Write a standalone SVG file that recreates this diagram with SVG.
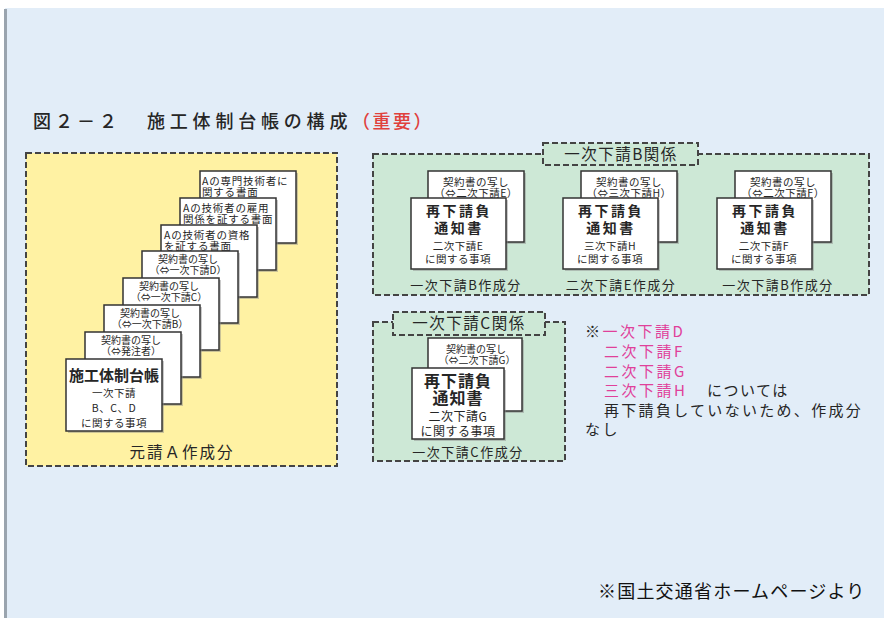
<svg xmlns="http://www.w3.org/2000/svg" width="884" height="618" viewBox="0 0 884 618">
<style>
text{font-family:"Noto Sans CJK JP","Noto Sans",sans-serif;fill:#262626}
.card{fill:#fff;stroke:#333;stroke-width:1.5}
.shadow{fill:#8a8a8a;opacity:.45}
.dash{stroke:#444;stroke-width:2;stroke-dasharray:6 3}
.yel{fill:#fff2a3}
.grn{fill:#cde8d6}
.s{font-size:10.5px;letter-spacing:.8px}
.sc{font-size:10px;text-anchor:middle}
.sb{font-size:10.5px;text-anchor:middle;letter-spacing:.5px}
.big{font-size:14px;font-weight:700;text-anchor:middle;letter-spacing:2.5px}
.cap{font-size:13px;text-anchor:middle;letter-spacing:1.5px}
.lab{font-size:15.5px;text-anchor:middle;letter-spacing:1.5px}
.note{font-size:15px;letter-spacing:2.5px}
.mag{fill:#e0409a}
</style>
<rect x="0" y="0" width="884" height="618" fill="#ffffff"/>
<rect x="5" y="8" width="879" height="610" fill="#e2edf8"/>
<rect x="4" y="9" width="3" height="609" fill="#9aa4ae"/>

<g id="title">
<text x="33" y="128" font-size="18" letter-spacing="4" font-weight="500">図２－２</text>
<text x="147" y="128" font-size="18" letter-spacing="4.8" font-weight="500">施工体制台帳の構成</text>
<text x="352" y="128" font-size="18" letter-spacing="2.5" font-weight="500" style="fill:#e0403c">（重要）</text>
</g>

<g id="groupA">
<rect x="26" y="153" width="311" height="313" class="yel dash"/>
<text x="182" y="458" font-size="15.5" text-anchor="middle" letter-spacing="2">元請Ａ作成分</text>
</g>

<g id="cardA1">
<rect x="202" y="173" width="96" height="72" class="shadow"/>
<rect x="200" y="171" width="96" height="72" class="card"/>
<text x="202" y="185" class="s">Aの専門技術者に</text>
<text x="202" y="196" class="s">関する書面</text>
</g>
<g id="cardA2">
<rect x="182" y="200" width="96" height="72" class="shadow"/>
<rect x="180" y="198" width="96" height="72" class="card"/>
<text x="183" y="212" class="s">Aの技術者の雇用</text>
<text x="183" y="223" class="s">関係を証する書面</text>
</g>
<g id="cardA3">
<rect x="163" y="227" width="96" height="72" class="shadow"/>
<rect x="161" y="225" width="96" height="72" class="card"/>
<text x="164" y="239" class="s">Aの技術者の資格</text>
<text x="164" y="250" class="s">を証する書面</text>
</g>
<g id="cardA4">
<rect x="144" y="253" width="96" height="72" class="shadow"/>
<rect x="142" y="251" width="96" height="72" class="card"/>
<text x="188" y="263" class="sc">契約書の写し</text>
<text x="188" y="274" class="sc">（⇔一次下請D）</text>
</g>
<g id="cardA5">
<rect x="125" y="280" width="96" height="72" class="shadow"/>
<rect x="123" y="278" width="96" height="72" class="card"/>
<text x="169" y="290" class="sc">契約書の写し</text>
<text x="169" y="301" class="sc">（⇔一次下請C）</text>
</g>
<g id="cardA6">
<rect x="106" y="307" width="96" height="72" class="shadow"/>
<rect x="104" y="305" width="96" height="72" class="card"/>
<text x="150" y="317" class="sc">契約書の写し</text>
<text x="150" y="328" class="sc">（⇔一次下請B）</text>
</g>
<g id="cardA7">
<rect x="87" y="334" width="96" height="72" class="shadow"/>
<rect x="85" y="332" width="96" height="72" class="card"/>
<text x="131" y="344" class="sc">契約書の写し</text>
<text x="131" y="355" class="sc">（⇔発注者）</text>
</g>
<g id="cardA8">
<rect x="68" y="361" width="96" height="72" class="shadow"/>
<rect x="66" y="359" width="96" height="72" class="card"/>
<text x="114" y="381" font-size="15" font-weight="700" text-anchor="middle">施工体制台帳</text>
<text x="114" y="397" class="sb">一次下請</text>
<text x="114" y="412" class="sb">B、C、D</text>
<text x="114" y="427" class="sb">に関する事項</text>
</g>

<g id="groupB">
<rect x="373" y="154" width="496" height="141" class="grn dash"/>
<rect x="543" y="143" width="155" height="22" class="grn dash"/>
<text x="621" y="160" class="lab">一次下請B関係</text>
<text x="466" y="290" class="cap">一次下請B作成分</text>
<text x="621" y="290" class="cap">二次下請E作成分</text>
<text x="778" y="290" class="cap">一次下請B作成分</text>
</g>

<g id="unitE">
<rect x="430" y="173" width="96" height="71" class="shadow"/>
<rect x="428" y="171" width="96" height="71" class="card"/>
<text x="476" y="186" class="sb">契約書の写し</text>
<text x="476" y="197" class="sb" letter-spacing="0">（⇔二次下請E）</text>
<rect x="413" y="200" width="95" height="71" class="shadow"/>
<rect x="411" y="198" width="95" height="71" class="card"/>
<text x="459" y="216" class="big">再下請負</text>
<text x="459" y="233" class="big">通知書</text>
<text x="458" y="250" class="sb">二次下請E</text>
<text x="458" y="263" class="sb">に関する事項</text>
</g>
<g id="unitH">
<rect x="583" y="173" width="96" height="71" class="shadow"/>
<rect x="581" y="171" width="96" height="71" class="card"/>
<text x="629" y="186" class="sb">契約書の写し</text>
<text x="629" y="197" class="sb" letter-spacing="0">（⇔三次下請H）</text>
<rect x="565" y="200" width="95" height="71" class="shadow"/>
<rect x="563" y="198" width="95" height="71" class="card"/>
<text x="611" y="216" class="big">再下請負</text>
<text x="611" y="233" class="big">通知書</text>
<text x="610" y="250" class="sb">三次下請H</text>
<text x="610" y="263" class="sb">に関する事項</text>
</g>
<g id="unitF">
<rect x="737" y="173" width="96" height="71" class="shadow"/>
<rect x="735" y="171" width="96" height="71" class="card"/>
<text x="783" y="186" class="sb">契約書の写し</text>
<text x="783" y="197" class="sb" letter-spacing="0">（⇔二次下請F）</text>
<rect x="719" y="200" width="95" height="71" class="shadow"/>
<rect x="717" y="198" width="95" height="71" class="card"/>
<text x="765" y="216" class="big">再下請負</text>
<text x="765" y="233" class="big">通知書</text>
<text x="764" y="250" class="sb">二次下請F</text>
<text x="764" y="263" class="sb">に関する事項</text>
</g>

<g id="groupC">
<rect x="373" y="322" width="192" height="139" class="grn dash"/>
<rect x="393" y="312" width="152" height="23" class="grn dash"/>
<text x="469" y="329" class="lab">一次下請C関係</text>
<text x="468" y="457" class="cap">一次下請C作成分</text>
</g>
<g id="unitG">
<rect x="430" y="340" width="94" height="73" class="shadow"/>
<rect x="428" y="338" width="94" height="73" class="card"/>
<text x="476" y="353" class="sc">契約書の写し</text>
<text x="477" y="364" class="sc">（⇔二次下請G）</text>
<rect x="414" y="370" width="92" height="71" class="shadow"/>
<rect x="412" y="368" width="92" height="71" class="card"/>
<text x="458" y="387" class="big" style="font-size:16px;letter-spacing:1px">再下請負</text>
<text x="458" y="404" class="big" style="font-size:16px;letter-spacing:1px">通知書</text>
<text x="458" y="421" class="sb" style="font-size:12px">二次下請G</text>
<text x="458" y="436" class="sb" style="font-size:12px">に関する事項</text>
</g>

<g id="note">
<text x="585" y="337" class="note">※<tspan class="mag">一次下請D</tspan></text>
<text x="604" y="357" class="note mag">二次下請F</text>
<text x="604" y="377" class="note mag">二次下請G</text>
<text x="604" y="396" class="note mag">三次下請H</text>
<text x="707" y="396" class="note" style="letter-spacing:1.5px">については</text>
<text x="604" y="416" class="note" style="letter-spacing:2.3px">再下請負していないため、作成分</text>
<text x="585" y="435" class="note">なし</text>
</g>

<g id="source">
<text x="598" y="598" font-size="18" letter-spacing="1.2" style="fill:#111">※国土交通省ホームページより</text>
</g>
</svg>
